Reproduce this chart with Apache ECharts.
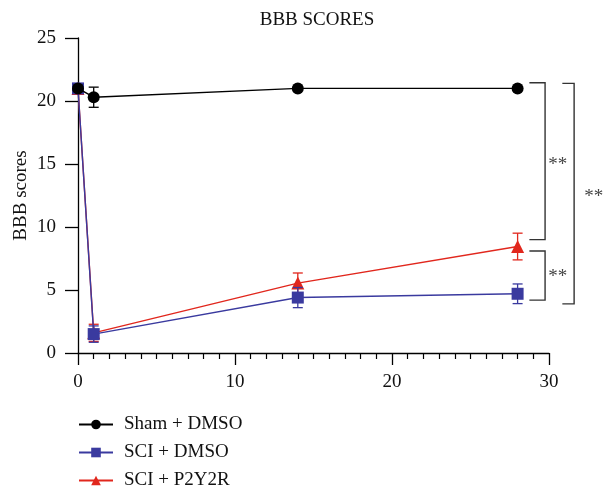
<!DOCTYPE html>
<html>
<head>
<meta charset="utf-8">
<script src="https://cdn.jsdelivr.net/npm/echarts@6/dist/echarts.min.js"></script>
<style>
html,body{margin:0;padding:0;background:#fff;}
#chart{width:604px;height:489px;}
</style>
</head>
<body>
<div id="chart"></div>
<script>
// ---- data ----
const days = [0, 1, 14, 28];
const shamDMSO = [21, 20.3, 21, 21];
const shamSEM = [0, 0.8, 0, 0];
const sciDMSO = [21, 1.5, 4.4, 4.7];
const sciDMSOSEM = [0, 0.65, 0.8, 0.78];
const sciP2Y2R = [21, 1.6, 5.55, 8.45];
const sciP2Y2RSEM = [0, 0.68, 0.8, 1.06];
const seriesNames = ['Sham + DMSO', 'SCI + DMSO', 'SCI + P2Y2R'];
const titleText = 'BBB SCORES';
const yAxisName = 'BBB scores';
const xTicks = [0, 10, 20, 30];
const yTicks = [0, 5, 10, 15, 20, 25];
// significance brackets in data units: [x0, x1, yTop, yBottom, labelX, labelY, label]
const brackets = [
  [28.75, 29.75, 21.45, 9.0, 30.55, 14.9, '**'],
  [28.75, 29.75, 8.1, 4.2, 30.55, 6.0, '**'],
  [30.85, 31.6, 21.4, 3.9, 32.85, 12.4, '**']
];

const FONT = 'Liberation Serif';
const colors = ['#000000', '#3a3a9f', '#e1271d'];
const legendTops = [415, 443, 471];

function pts(ys) { return days.map((d, i) => [d, ys[i]]); }
function errs(ys, sem) {
  return days.map((d, i) => [d, ys[i] - sem[i], ys[i] + sem[i]]).filter((r, i) => sem[i] > 0);
}

function errRender(color) {
  return function (params, api) {
    const x = api.value(0), lo = api.value(1), hi = api.value(2);
    const a = api.coord([x, hi]);
    const b = api.coord([x, lo]);
    const w = 5;
    const style = { stroke: color, lineWidth: 1.3 };
    return {
      type: 'group',
      children: [
        { type: 'line', shape: { x1: a[0], y1: a[1], x2: b[0], y2: b[1] }, style },
        { type: 'line', shape: { x1: a[0] - w, y1: a[1], x2: a[0] + w, y2: a[1] }, style },
        { type: 'line', shape: { x1: b[0] - w, y1: b[1], x2: b[0] + w, y2: b[1] }, style }
      ]
    };
  };
}

function bracketRender(params, api) {
  const r = brackets[params.dataIndex];
  const p1 = api.coord([r[0], r[2]]);
  const p2 = api.coord([r[1], r[2]]);
  const p3 = api.coord([r[1], r[3]]);
  const p4 = api.coord([r[0], r[3]]);
  const pt = api.coord([r[4], r[5]]);
  return {
    type: 'group',
    children: [
      { type: 'polyline', shape: { points: [p1, p2, p3, p4] }, style: { stroke: '#333', lineWidth: 1.4, fill: null } },
      { type: 'text', x: pt[0], y: pt[1], style: { text: r[6], font: '19px "' + FONT + '"', fill: '#444', align: 'center', verticalAlign: 'middle' } }
    ]
  };
}

const chart = echarts.init(document.getElementById('chart'), null, { renderer: 'canvas' });
const option = {
  animation: false,
  backgroundColor: '#fff',
  textStyle: { fontFamily: FONT },
  title: {
    text: titleText,
    left: 312, textAlign: 'center', top: 6,
    textStyle: { fontFamily: FONT, fontWeight: 'normal', fontSize: 19, color: '#111' }
  },
  grid: { left: 78, right: 55, top: 38, bottom: 136, containLabel: false },
  legend: seriesNames.map((n, i) => ({
    orient: 'vertical', left: 78, top: legendTops[i], padding: 0,
    itemWidth: 34, itemHeight: 12,
    textStyle: { fontFamily: FONT, fontSize: 19, lineHeight: 18, color: '#111', padding: [0, 0, 0, 6] },
    data: [n]
  })),
  xAxis: {
    type: 'value', min: xTicks[0], max: xTicks[xTicks.length - 1], interval: 10,
    axisLine: { show: true, lineStyle: { color: '#000', width: 1.3 } },
    axisTick: { show: true, length: 12, lineStyle: { color: '#000', width: 1.3 } },
    minorTick: { show: true, splitNumber: 10, length: 6, lineStyle: { color: '#000', width: 1.2 } },
    splitLine: { show: false },
    axisLabel: { fontFamily: FONT, fontSize: 19, color: '#111', margin: 20 }
  },
  yAxis: {
    type: 'value', min: yTicks[0], max: yTicks[yTicks.length - 1], interval: 5,
    name: yAxisName, nameLocation: 'middle', nameRotate: 90, nameGap: 47,
    nameMoveOverlap: false,
    nameTextStyle: { fontFamily: FONT, fontSize: 19, color: '#111' },
    axisLine: { show: true, lineStyle: { color: '#000', width: 1.3 } },
    axisTick: { show: true, length: 13, lineStyle: { color: '#000', width: 1.3 } },
    splitLine: { show: false },
    axisLabel: { fontFamily: FONT, fontSize: 19, color: '#111', margin: 22 }
  },
  series: [
    {
      name: seriesNames[2], type: 'line', data: pts(sciP2Y2R), z: 3,
      symbol: 'triangle', symbolSize: 13, color: colors[2],
      lineStyle: { width: 1.4, color: colors[2] }, itemStyle: { color: colors[2] }
    },
    {
      type: 'custom', renderItem: errRender(colors[2]), data: errs(sciP2Y2R, sciP2Y2RSEM),
      encode: { x: 0, y: [1, 2] }, z: 3, silent: true
    },
    {
      name: seriesNames[1], type: 'line', data: pts(sciDMSO), z: 4,
      symbol: 'rect', symbolSize: 12, color: colors[1],
      lineStyle: { width: 1.4, color: colors[1] }, itemStyle: { color: colors[1] }
    },
    {
      type: 'custom', renderItem: errRender(colors[1]), data: errs(sciDMSO, sciDMSOSEM),
      encode: { x: 0, y: [1, 2] }, z: 4, silent: true
    },
    {
      name: seriesNames[0], type: 'line', data: pts(shamDMSO), z: 5,
      symbol: 'circle', symbolSize: 12, color: colors[0],
      lineStyle: { width: 1.4, color: colors[0] }, itemStyle: { color: colors[0] }
    },
    {
      type: 'custom', renderItem: errRender(colors[0]), data: errs(shamDMSO, shamSEM),
      encode: { x: 0, y: [1, 2] }, z: 5, silent: true
    },
    {
      type: 'custom', renderItem: bracketRender, data: brackets.map(b => [b[0], b[2]]),
      encode: { x: 0, y: 1 }, clip: false, silent: true, z: 6
    }
  ]
};
chart.setOption(option);
</script>
</body>
</html>
